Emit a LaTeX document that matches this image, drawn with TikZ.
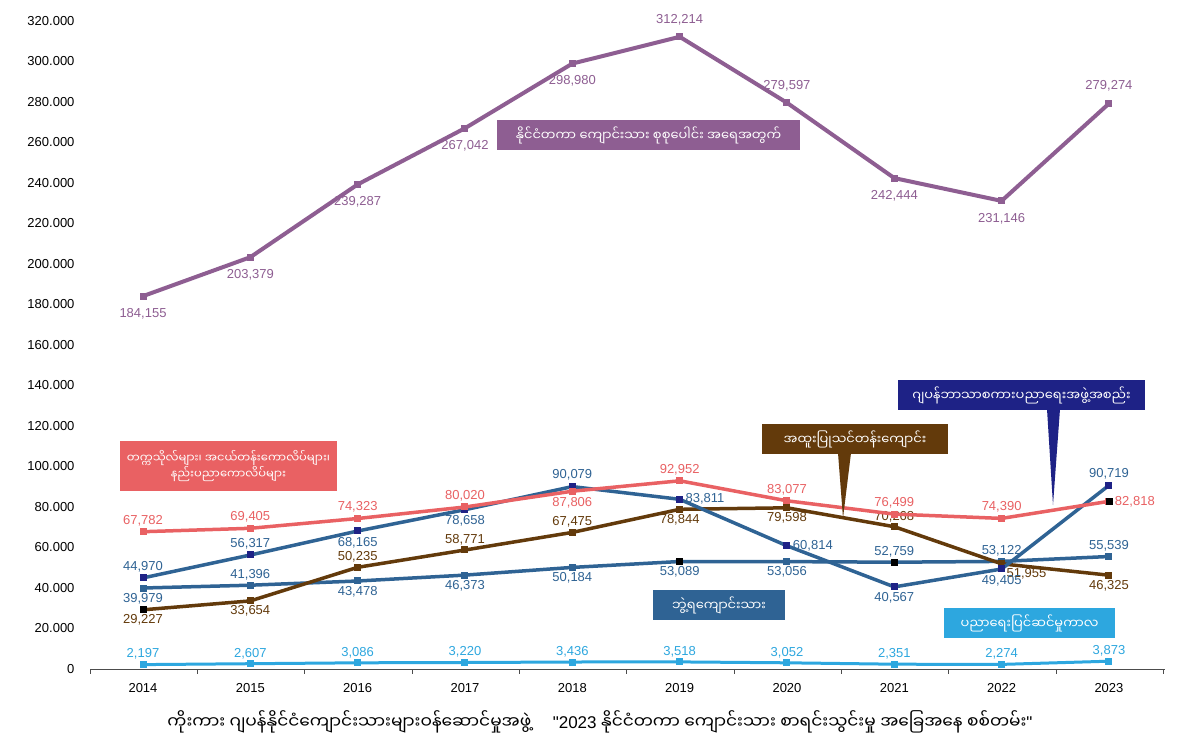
\documentclass[tikz,border=0pt]{standalone}
\usepackage{fontspec}
\setmainfont{Liberation Sans}
\newfontfamily\mya[Script=Myanmar]{Noto Sans Myanmar UI}
\newfontfamily\lat{Liberation Sans}
\definecolor{cpur}{HTML}{8E5E92}
\definecolor{cred}{HTML}{E96163}
\definecolor{cnav}{HTML}{1E2286}
\definecolor{cstb}{HTML}{2F6394}
\definecolor{cbrn}{HTML}{633A0B}
\definecolor{clbl}{HTML}{2DA7DF}
\begin{document}
\begin{tikzpicture}[x=1pt,y=-1pt,
  num/.style={font=\fontsize{13}{14}\selectfont,inner sep=1pt,outer sep=3pt},
  mk/.style={minimum size=7pt,inner sep=0pt},
  box/.style={font=\mya\fontsize{13}{17}\selectfont,text=white,inner sep=0pt,align=center}]
\useasboundingbox (0,0) rectangle (1200,750);
\fill[white] (0,0) rectangle (1200,750);
% axes
\draw[black!70,line width=0.8pt] (90,669) coordinate (ax0) -- (1165,669) coordinate (ax1);
\foreach \k in {0,...,10}{\draw[black!70] ({90+107.3*\k},669) -- ({90+107.3*\k},674);}
\foreach \v/\t in {0/0,20/20.000,40/40.000,60/60.000,80/80.000,100/100.000,120/120.000,140/140.000,160/160.000,180/180.000,200/200.000,220/220.000,240/240.000,260/260.000,280/280.000,300/300.000,320/320.000}
  \node[anchor=east,font=\fontsize{13}{14}\selectfont] (yl\v) at (78,{669-2.025*\v}) {\t};
\foreach \y [count=\k from 0] in {2014,...,2023}
  \node[font=\fontsize{13}{14}\selectfont] (xl\y) at ({143+107.33*\k},688) {\y};
% series macro
\newcommand\drawseries[6]{%
  \draw[#1,line width=#3] plot coordinates {#2};
  \foreach \i/\v/\t/\a in {#4}{
    \node[fill=#5,mk] (m\i) at ({143+107.33*\i},{669-2.025*\v}) {};
    \node[num,text=#1,anchor=\a,outer sep=#6] (l\i) at (m\i) {\t};
  }}
% prep
\drawseries{clbl}{(143,664.6)(250.3,663.7)(357.7,662.8)(465,662.5)(572.3,662.0)(679.7,661.9)(787,662.8)(894.3,664.2)(1001.6,664.4)(1109,661.2)}{3pt}
 {0/2.197/{2,197}/south,1/2.607/{2,607}/south,2/3.086/{3,086}/south,3/3.220/{3,220}/south,4/3.436/{3,436}/south,5/3.518/{3,518}/south,6/3.052/{3,052}/south,7/2.351/{2,351}/south,8/2.274/{2,274}/south,9/3.873/{3,873}/south}{clbl}{4pt}
% graduate
\drawseries{cstb}{(143,588.0)(250.3,585.2)(357.7,581.0)(465,575.1)(572.3,567.4)(679.7,561.5)(787,561.6)(894.3,562.2)(1001.6,561.4)(1109,556.5)}{3.5pt}
 {0/39.979/{39,979}/north,1/41.396/{41,396}/south,2/43.478/{43,478}/north,3/46.373/{46,373}/north,4/50.184/{50,184}/north,5/53.089/{53,089}/north,6/53.056/{53,056}/north,7/52.759/{52,759}/south,8/53.122/{53,122}/south,9/55.539/{55,539}/south}{cstb}{4pt}
\fill[black] (679.7,561.5) +(-3.5,-3.5) rectangle +(3.5,3.5);
\fill[black] (894.3,562.2) +(-3.5,-3.5) rectangle +(3.5,3.5);
% vocational
\drawseries{cbrn}{(143,609.8)(250.3,600.9)(357.7,567.3)(465,550.0)(572.3,532.4)(679.7,509.3)(787,507.8)(894.3,526.7)(1001.6,563.8)(1109,575.2)}{3.5pt}
 {0/29.227/{29,227}/north,1/33.654/{33,654}/north,2/50.235/{50,235}/south,3/58.771/{58,771}/south,4/67.475/{67,475}/south,5/78.844/{78,844}/north,6/79.598/{79,598}/north,7/70.268/{70,268}/south,8/51.955/{51,955}/{north west},9/46.325/{46,325}/north}{cbrn}{4pt}
\fill[black] (143,609.8) +(-3.5,-3.5) rectangle +(3.5,3.5);
% japanese language
\drawseries{cstb}{(143,577.9)(250.3,555.0)(357.7,531.0)(465,509.7)(572.3,486.6)(679.7,499.3)(787,545.8)(894.3,586.9)(1001.6,569.0)(1109,485.3)}{3.5pt}
 {0/44.970/{44,970}/south,1/56.317/{56,317}/south,2/68.165/{68,165}/north,3/78.658/{78,658}/north,4/90.079/{90,079}/south,5/83.811/{83,811}/west,6/60.814/{60,814}/west,7/40.567/{40,567}/north,8/49.405/{49,405}/north,9/90.719/{90,719}/south}{cnav}{5pt}
% universities
\drawseries{cred}{(143,531.7)(250.3,528.3)(357.7,518.5)(465,507.0)(572.3,491.2)(679.7,480.8)(787,500.8)(894.3,514.1)(1001.6,518.4)(1109,501.3)}{3.5pt}
 {0/67.782/{67,782}/south,1/69.405/{69,405}/south,2/74.323/{74,323}/south,3/80.020/{80,020}/south,4/87.806/{87,806}/north,5/92.952/{92,952}/south,6/83.077/{83,077}/south,7/76.499/{76,499}/south,8/74.390/{74,390}/south,9/82.818/{82,818}/west}{cred}{5pt}
\fill[black] (1109,501.3) +(-3.5,-3.5) rectangle +(3.5,3.5);
% total
\drawseries{cpur}{(143,296.1)(250.3,257.2)(357.7,184.4)(465,128.2)(572.3,63.6)(679.7,36.8)(787,102.8)(894.3,178.1)(1001.6,200.9)(1109,103.5)}{4pt}
 {0/184.155/{184,155}/north,1/203.379/{203,379}/north,2/239.287/{239,287}/north,3/267.042/{267,042}/north,4/298.980/{298,980}/north,5/312.214/{312,214}/south,6/279.597/{279,597}/south,7/242.444/{242,444}/north,8/231.146/{231,146}/north,9/279.274/{279,274}/south}{cpur}{11pt}
% callouts
\fill[cpur] (497,120) rectangle (800,150);
\node[box] (bt) at (648.5,135) {နိုင်ငံတကာ ကျောင်းသား စုစုပေါင်း အရေအတွက်};
\fill[cred] (120,441) rectangle (337,491);
\node[box,font=\mya\fontsize{11.5}{16}\selectfont] (bu) at (228.5,466) {တက္ကသိုလ်များ၊ အငယ်တန်းကောလိပ်များ၊\\နည်းပညာကောလိပ်များ};
\fill[cnav] (898,380) rectangle (1145,410);
\fill[cnav] (1047,409) -- (1060,409) -- (1053,505) -- cycle;
\node[box] (bj) at (1021.5,395) {ဂျပန်ဘာသာစကားပညာရေးအဖွဲ့အစည်း};
\fill[cbrn] (762,424) rectangle (948,454);
\fill[cbrn] (838,453) -- (851,453) -- (843,518) -- cycle;
\node[box] (bv) at (855,439) {အထူးပြုသင်တန်းကျောင်း};
\fill[cstb] (653,590) rectangle (785,620);
\node[box] (bg) at (719,605) {ဘွဲ့ရကျောင်းသား};
\fill[clbl] (944,608) rectangle (1115,638);
\node[box] (bp) at (1029.5,623) {ပညာရေးပြင်ဆင်မှုကာလ};
% source
\node[font=\mya\fontsize{17}{19}\selectfont] (src) at (600,722) {ကိုးကား ဂျပန်နိုင်ငံကျောင်းသားများဝန်ဆောင်မှုအဖွဲ့ \quad{\lat "2023} နိုင်ငံတကာ ကျောင်းသား စာရင်းသွင်းမှု အခြေအနေ စစ်တမ်း{\lat "}};
\end{tikzpicture}
\end{document}
